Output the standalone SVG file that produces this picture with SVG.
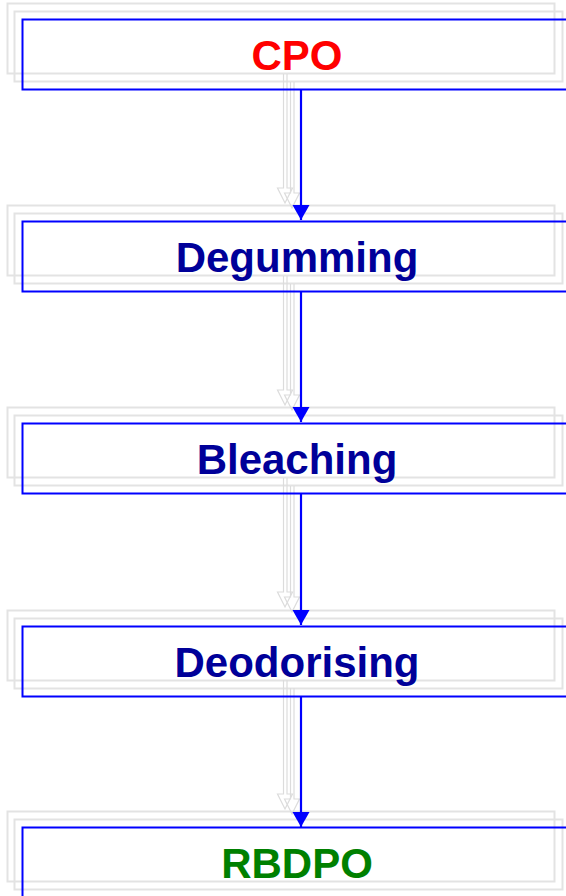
<svg xmlns="http://www.w3.org/2000/svg" width="566" height="896" viewBox="0 0 566 896">
  <defs>
    <style>
      .ghost { fill: none; stroke: #e3e3e3; stroke-width: 2; }
      .ghost-arrow { fill: none; stroke: #dcdcdc; stroke-width: 1.2; }
      .box { fill: none; stroke: #0000ff; stroke-width: 2; }
      .label { font-family: "Liberation Sans", Arial, sans-serif; font-weight: bold; font-size: 42px; text-anchor: middle; }
      .step { fill: #000099; }
      .link { stroke: #0000ff; stroke-width: 2.2; fill: none; }
    </style>
    <marker id="head" markerUnits="userSpaceOnUse" markerWidth="18" markerHeight="18" viewBox="0 0 16 18" refX="15" refY="9" orient="auto">
      <path d="M0,0.5 L15,9 L0,17.5 Z" fill="#0000ff"/>
    </marker>
    <!-- faint offset outline behind each box -->
    <g id="shadow">
      <rect class="ghost" x="7.5" y="3.5" width="547" height="70"/>
      <rect class="ghost" x="14.5" y="11.5" width="548" height="70"/>
    </g>
    <!-- faint hollow arrow behind each connector -->
    <g id="ghost-arrows">
      <path class="ghost-arrow" d="M283.5,74 V188 H277.5 L285,203 L292.5,188 H287 V74"/>
      <path class="ghost-arrow" d="M290.5,82 V193 H284.5 L292,208 L299.5,193 H294 V82"/>
    </g>
  </defs>

  <g id="shadows">
    <use href="#shadow" y="0"/>
    <use href="#shadow" y="202"/>
    <use href="#shadow" y="404"/>
    <use href="#shadow" y="607"/>
    <use href="#shadow" y="808"/>
    <use href="#ghost-arrows" y="0"/>
    <use href="#ghost-arrows" y="202"/>
    <use href="#ghost-arrows" y="404"/>
    <use href="#ghost-arrows" y="606"/>
  </g>

  <g id="connectors">
    <line class="link" x1="301" y1="90" x2="301" y2="220" marker-end="url(#head)"/>
    <line class="link" x1="301" y1="292" x2="301" y2="422" marker-end="url(#head)"/>
    <line class="link" x1="301" y1="494" x2="301" y2="625" marker-end="url(#head)"/>
    <line class="link" x1="301" y1="697" x2="301" y2="827" marker-end="url(#head)"/>
  </g>

  <g id="cpo">
    <rect class="box" x="22.5" y="19.5" width="600" height="70"/>
    <text class="label" x="297" y="70" fill="#ff0000">CPO</text>
  </g>
  <g id="degumming">
    <rect class="box" x="22.5" y="221.5" width="600" height="70"/>
    <text class="label step" x="297" y="272">Degumming</text>
  </g>
  <g id="bleaching">
    <rect class="box" x="22.5" y="423.5" width="600" height="70"/>
    <text class="label step" x="297" y="474">Bleaching</text>
  </g>
  <g id="deodorising">
    <rect class="box" x="22.5" y="626.5" width="600" height="70"/>
    <text class="label step" x="297" y="677">Deodorising</text>
  </g>
  <g id="rbdpo">
    <rect class="box" x="22.5" y="827.5" width="600" height="70"/>
    <text class="label" x="297" y="878" fill="#008000">RBDPO</text>
  </g>
</svg>
